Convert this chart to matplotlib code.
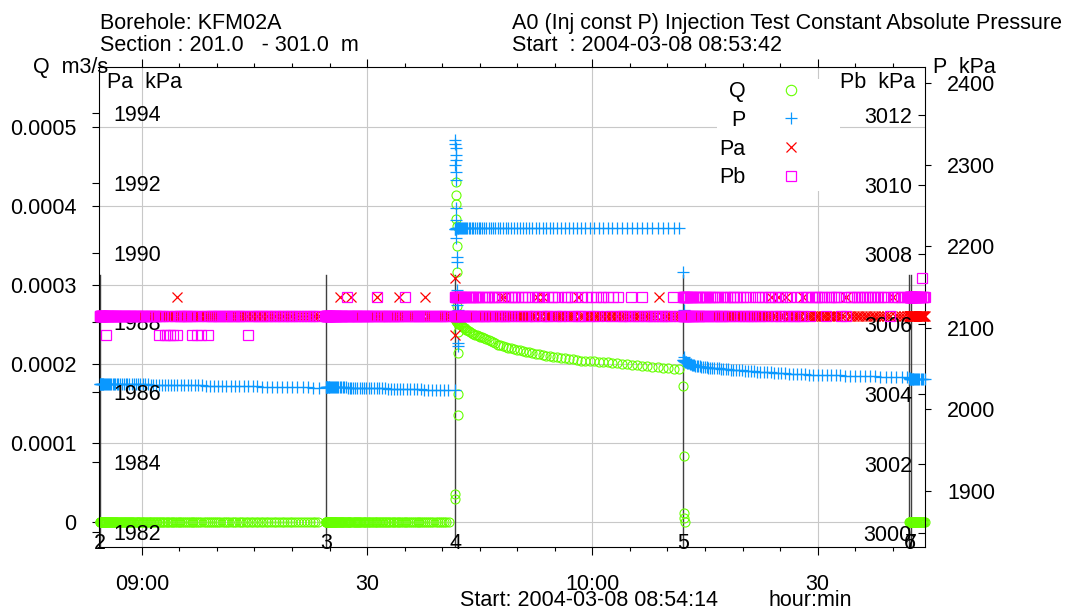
import numpy as np
import matplotlib
matplotlib.use("Agg")
import matplotlib.pyplot as plt
from matplotlib.lines import Line2D

plt.rcParams['font.family'] = ['Liberation Sans', 'DejaVu Sans']
plt.rcParams['font.size'] = 15.5

W, H = 1074, 610

# events (minutes after 09:00)
event_names = ['2', '3', '4', '5', '6', '7']
event_min = [-5.55, 24.54, 41.72, 72.08, 102.22, 102.45]

# logger sample times after each event (s): P and Q channel
sample_s = [0, 2, 5, 8, 11, 16, 20, 26, 32, 38,
            45, 53, 61, 70, 79, 89, 99, 110, 122, 134,
            146, 160, 173, 188, 203, 218, 234, 251, 268, 285,
            304, 322, 342, 362, 382, 403, 425, 447, 470, 493,
            517, 541, 566, 592, 618, 644, 672, 699, 728, 757,
            786, 816, 847, 878, 909, 942, 974, 1008, 1042, 1076,
            1111, 1147, 1183, 1220, 1257, 1295, 1333, 1372, 1412, 1452,
            1492, 1534, 1575, 1618, 1661, 1704, 1748, 1793]

# denser sample times (s) of the Q-zero and Pa/Pb records
dense_s = [0, 1, 2, 3, 5, 7, 8, 10, 12, 15,
           17, 20, 23, 25, 29, 32, 35, 39, 42, 46,
           50, 55, 59, 63, 68, 73, 78, 83, 88, 94,
           100, 105, 111, 117, 124, 130, 137, 144, 150, 158,
           165, 172, 180, 187, 195, 203, 212, 220, 228, 237,
           246, 255, 264, 273, 283, 293, 302, 312, 322, 333,
           343, 354, 365, 375, 387, 398, 409, 421, 432, 444,
           456, 469, 481, 493, 506, 519, 532, 545, 558, 572,
           586, 599, 613, 627, 642, 656, 671, 686, 700, 716,
           731, 746, 762, 777, 793, 809, 826, 842, 858, 875,
           892, 909, 926, 943, 961, 979, 996, 1014, 1032, 1051,
           1069, 1088, 1107, 1125, 1145, 1164, 1183, 1203, 1222, 1242,
           1262, 1283, 1303, 1323, 1344, 1365, 1386, 1407, 1428, 1450,
           1472, 1493, 1515, 1537, 1560, 1582, 1605, 1628, 1650, 1674,
           1697, 1720, 1744, 1767, 1791]

# P kPa per segment
p_A = [2031.5, 2031.5, 2031.5, 2031.5, 2031.5, 2031.5, 2031.4, 2031.4, 2031.4, 2031.4,
       2031.4, 2031.3, 2031.3, 2031.3, 2031.3, 2031.2, 2031.2, 2031.2, 2031.2, 2031.1,
       2031.1, 2031.0, 2031.0, 2031.0, 2030.9, 2030.9, 2030.8, 2030.8, 2030.7, 2030.7,
       2030.6, 2030.6, 2030.5, 2030.5, 2030.4, 2030.3, 2030.3, 2030.2, 2030.2, 2030.1,
       2030.0, 2030.0, 2029.9, 2029.8, 2029.7, 2029.7, 2029.6, 2029.5, 2029.4, 2029.3,
       2029.3, 2029.2, 2029.1, 2029.0, 2028.9, 2028.8, 2028.7, 2028.6, 2028.5, 2028.4,
       2028.3, 2028.2, 2028.1, 2028.0, 2027.9, 2027.8, 2027.7, 2027.6, 2027.5, 2027.4,
       2027.2, 2027.1, 2027.0, 2026.9, 2026.8, 2026.6, 2026.5]
p_B = [2027.3, 2027.3, 2027.3, 2027.3, 2027.3, 2027.2, 2027.2, 2027.2, 2027.2, 2027.2,
       2027.1, 2027.1, 2027.1, 2027.0, 2027.0, 2027.0, 2026.9, 2026.9, 2026.8, 2026.8,
       2026.7, 2026.7, 2026.6, 2026.6, 2026.5, 2026.4, 2026.4, 2026.3, 2026.2, 2026.2,
       2026.1, 2026.0, 2025.9, 2025.9, 2025.8, 2025.7, 2025.6, 2025.5, 2025.5, 2025.4,
       2025.3, 2025.2, 2025.1, 2025.0, 2024.9, 2024.8, 2024.7, 2024.6, 2024.5, 2024.3,
       2024.2, 2024.1, 2024.0, 2023.9, 2023.7, 2023.6, 2023.5]
p_C = [2221.0, 2221.2, 2221.4, 2221.6, 2221.8, 2222.0, 2222.1, 2222.2, 2222.2, 2222.3,
       2222.3, 2222.3, 2222.4, 2222.4, 2222.4, 2222.4, 2222.5, 2222.5, 2222.5, 2222.5,
       2222.5, 2222.5, 2222.5, 2222.6, 2222.6, 2222.6, 2222.6, 2222.6, 2222.6, 2222.6,
       2222.6, 2222.7, 2222.7, 2222.7, 2222.7, 2222.7, 2222.7, 2222.7, 2222.7, 2222.7,
       2222.8, 2222.8, 2222.8, 2222.8, 2222.8, 2222.8, 2222.8, 2222.8, 2222.8, 2222.8,
       2222.8, 2222.8, 2222.8, 2222.8, 2222.8, 2222.9, 2222.9, 2222.9, 2222.9, 2222.9,
       2222.9, 2222.9, 2222.9, 2222.9, 2222.9, 2222.9, 2222.9, 2222.9, 2222.9, 2222.9,
       2223.0, 2223.0, 2223.0, 2223.0, 2223.0, 2223.0, 2223.0, 2223.0]
p_D = [2060.5, 2060.2, 2059.8, 2059.4, 2059.0, 2058.5, 2058.0, 2057.5, 2057.0, 2056.6,
       2056.2, 2055.7, 2055.3, 2054.8, 2054.4, 2054.0, 2053.6, 2053.2, 2053.0, 2052.7,
       2052.4, 2052.1, 2051.8, 2051.5, 2051.2, 2051.0, 2050.7, 2050.4, 2050.2, 2050.0,
       2049.7, 2049.5, 2049.2, 2049.0, 2048.7, 2048.4, 2048.1, 2047.9, 2047.6, 2047.3,
       2047.0, 2046.8, 2046.5, 2046.2, 2046.0, 2045.7, 2045.4, 2045.2, 2044.9, 2044.6,
       2044.3, 2044.0, 2043.7, 2043.4, 2043.1, 2042.9, 2042.7, 2042.5, 2042.4, 2042.2,
       2042.0, 2041.9, 2041.7, 2041.5, 2041.4, 2041.2, 2041.0, 2040.9, 2040.7, 2040.6,
       2040.4, 2040.3, 2040.1, 2040.0, 2039.8, 2039.7, 2039.5, 2039.4]
p_E = [2037.8, 2037.8, 2037.7, 2037.7, 2037.7, 2037.6, 2037.6, 2037.6, 2037.5, 2037.5,
       2037.5, 2037.4, 2037.4, 2037.3, 2037.3, 2037.2, 2037.2, 2037.1, 2037.1]

# Q (1e-4 m3/s) during injection, event 4 -> 5
q_C = [2.58, 2.57, 2.56, 2.55, 2.54, 2.525, 2.52, 2.51, 2.505, 2.50,
       2.49, 2.48, 2.47, 2.46, 2.45, 2.435, 2.425, 2.41, 2.40, 2.39,
       2.38, 2.37, 2.36, 2.355, 2.345, 2.335, 2.325, 2.31, 2.30, 2.29,
       2.275, 2.265, 2.245, 2.233, 2.225, 2.215, 2.205, 2.197, 2.19, 2.18,
       2.17, 2.163, 2.155, 2.147, 2.14, 2.13, 2.122, 2.113, 2.104, 2.095,
       2.088, 2.081, 2.075, 2.069, 2.063, 2.056, 2.05, 2.042, 2.039, 2.036,
       2.033, 2.030, 2.026, 2.02, 2.014, 2.008, 2.002, 1.995, 1.99, 1.983,
       1.977, 1.97, 1.964, 1.958, 1.952, 1.946, 1.94, 1.934]

# fast samples right after events 4 and 5
ev4_q_s = [1, 2, 4, 6, 8, 10, 12, 14, 16, 18, 20, 22, 24, 26]
ev4_q = [0.29, 0.36, 4.30, 4.13, 4.02, 3.83, 3.74, 3.49, 3.16, 2.73, 2.40, 2.14, 1.62, 1.35]
ev4_p_s = [0, 1, 2, 3, 4, 5, 6, 7, 8, 9, 10, 11, 12, 14, 16, 18, 20, 22, 24]
ev4_p = [2023, 2300, 2330, 2326, 2320, 2312, 2306, 2291, 2281, 2247,
         2232, 2210, 2187, 2181, 2146, 2128, 2122, 2081, 2077]
ev5_q_s = [2, 5, 8, 11, 14]
ev5_q = [1.72, 0.835, 0.11, 0.05, 0.0]
ev5_p_s = [2, 5, 8]
ev5_p = [2169, 2122, 2064]

# number of Q = 0 samples in segments A, B and E (dense record)
qzero_n = {0: 143, 1: 106, 4: 35}

# Pa / Pb are digitised in steps; codes index into the level lists
pa_levels = [1987.64, 1988.19, 1988.73, 1989.28]
pb_levels = [3005.69, 3006.24, 3006.78, 3007.33]
pa_A = ("1111111111" "1111111111" "1111111111" "1111111111" "1111111111"
        "1111111111" "1111111111" "1111111111" "1121111111" "1111111111"
        "1111111111" "1111111111" "1111111111" "1111111111" "111")
pb_A = ("1111111111" "1111111111" "0111111111" "1111111111" "1111111111"
        "1111111111" "1111111111" "1011100101" "0101111111" "0110101101"
        "1111111111" "1111110111" "1111111111" "1111111111" "111")
pa_B = ("1111111111" "1111111111" "1111111111" "1121111111" "1111121111"
        "1111111111" "1111112111" "1111111111" "2111111111" "1111211111"
        "111111")
pb_B = ("1111111111" "1111111111" "1111111111" "1111111111" "2111111111"
        "1111111111" "1111112111" "1111111111" "1112111111" "1111111111"
        "111111")
pa_C = ("2310212121" "2121212121" "2111211111" "1111111111" "1111111111"
        "1111111111" "1121211111" "1111111111" "1111121121" "1111111111"
        "1111121111" "1111111111" "1111111111" "1111111211" "11111")
pb_C = ("2121212121" "1212121212" "2121122121" "1212211212" "2121212112"
        "1212121221" "2112121212" "1221212121" "2121122121" "1212212112"
        "2121211212" "1212122121" "2121111211" "1211111111" "11211")
pa_D = ("1111111111" "1111111111" "1111111111" "1111111111" "1111111111"
        "1111111111" "1111111111" "1111111111" "1111111121" "1121112111"
        "1111211111" "1111111111" "1121111111" "1111111112" "11111")
pb_D = ("1212121212" "2121212121" "1212211212" "2121121212" "1212212121"
        "2121211212" "1212122121" "2121212112" "1212121221" "2121212121"
        "1212122122" "2222122222" "1212222222" "2222222212" "22222")
pa_E = "1111111111" "1111111111" "1111111111" "11111"
pb_E = "2222222222" "2222222222" "2222222222" "32222"

q_ticks = [0, 0.0001, 0.0002, 0.0003, 0.0004, 0.0005]
q_tick_labels = ['0', '0.0001', '0.0002', '0.0003', '0.0004', '0.0005']
p_ticks = [1900, 2000, 2100, 2200, 2300, 2400]
pa_ticks = [1982, 1984, 1986, 1988, 1990, 1992, 1994]
pb_ticks = [3000, 3002, 3004, 3006, 3008, 3010, 3012]
x_major = [0, 30, 60, 90]
x_major_labels = ['09:00', '30', '10:00', '30']
x_minor = [5, 10, 15, 20, 25, 35, 40, 45, 50, 55, 65, 70, 75, 80, 85, 95, 100]

Q_COL, P_COL, PA_COL, PB_COL = '#66ff00', '#0a98ff', '#ff0000', '#ff00ff'


def seg_t(ev, n, grid=sample_s):
    return event_min[ev] + np.array(grid[:n]) / 60.0


def spike_t(ev, secs):
    return event_min[ev] + np.array(secs) / 60.0


def levels(codes, lv):
    return [lv[int(c)] for c in codes]


fig = plt.figure(figsize=(W / 100, H / 100), dpi=100)
ax = fig.add_axes([98.5 / W, 1 - 546.7 / H, 826.5 / W, 480 / H])
ax.set_xlim(-5.767, 104.3)
ax.set_ylim(-0.0000312, 0.0005759)

ax_p = ax.twinx()
ax_pa = ax.twinx()
ax_pb = ax.twinx()
ax_p.set_ylim(1831.27, 2420.37)
ax_pa.set_ylim(1981.57, 1995.336)
ax_pb.set_ylim(2999.62, 3013.385)

mk = dict(ls='none', clip_on=False)
qk = dict(marker='o', ms=6.5, mfc='none', mec=Q_COL, mew=0.8, **mk)

# Q
for ev, n in qzero_n.items():
    ax.plot(seg_t(ev, n, dense_s), np.zeros(n), **qk)
ax.plot(spike_t(2, ev4_q_s), np.array(ev4_q) * 1e-4, **qk)
ax.plot(seg_t(2, 78), np.array(q_C) * 1e-4, **qk)
ax.plot(spike_t(3, ev5_q_s), np.array(ev5_q) * 1e-4, **qk)

# P
for t, v in [(seg_t(0, 77), p_A), (seg_t(1, 57), p_B), (spike_t(2, ev4_p_s), ev4_p),
             (seg_t(2, 78), p_C), (spike_t(3, ev5_p_s), ev5_p), (seg_t(3, 78), p_D),
             (seg_t(4, 19), p_E)]:
    ax_p.plot(t, v, marker='+', ms=8.5, color=P_COL, mew=0.9, **mk)

# Pa and Pb
segs = [(0, pa_A, pb_A), (1, pa_B, pb_B), (2, pa_C, pb_C), (3, pa_D, pb_D), (4, pa_E, pb_E)]
for ev, ca, cb in segs:
    ax_pa.plot(seg_t(ev, len(ca), dense_s), levels(ca, pa_levels),
               marker='x', ms=7, color=PA_COL, mew=0.9, **mk)
    ax_pb.plot(seg_t(ev, len(cb), dense_s), levels(cb, pb_levels),
               marker='s', ms=7, mfc='none', mec=PB_COL, mew=0.9, **mk)

# event lines
for name, t in zip(event_names, event_min):
    ax.axvline(t, ymin=0, ymax=0.566, color='#404040', lw=1.0, zorder=1.5)
    ax.text(t, 0.006, name, transform=ax.get_xaxis_transform(), ha='center', va='center')

# grid and axes styling
ax.grid(True, which='major', color='#c8c8c8', lw=0.8)
ax.set_axisbelow(True)
ax.set_yticks(q_ticks)
ax.set_yticklabels(q_tick_labels)
ax.tick_params(axis='y', direction='out', length=4.7, width=0.8, pad=11)
ax.set_xticks(x_major)
ax.set_xticklabels(x_major_labels)
ax.set_xticks(x_minor, minor=True)
ax.tick_params(axis='x', which='major', direction='out', length=5.8, width=0.8, top=True, pad=13.5)
ax.tick_params(axis='x', which='minor', direction='out', length=2.9, width=0.8, top=True)
for s in ax.spines.values():
    s.set_linewidth(0.8)

for a in (ax_p, ax_pa, ax_pb):
    for s in a.spines.values():
        s.set_visible(False)

ax_p.set_yticks(p_ticks)
ax_p.tick_params(axis='y', direction='out', length=4.3, width=0.8, pad=11.5)

ax_pa.yaxis.tick_left()
ax_pa.set_yticks(pa_ticks)
ax_pa.tick_params(axis='y', direction='out', length=4.7, width=0.8, pad=-15.3)
plt.setp(ax_pa.get_yticklabels(), ha='left')

ax_pb.set_yticks(pb_ticks)
ax_pb.tick_params(axis='y', direction='in', length=5, width=0.8, pad=-9.4)
plt.setp(ax_pb.get_yticklabels(), ha='right')

# legend
handles = [Line2D([], [], ls='none', marker='o', ms=7.5, mfc='none', mec=Q_COL, mew=0.8),
           Line2D([], [], ls='none', marker='+', ms=8, color=P_COL, mew=0.9),
           Line2D([], [], ls='none', marker='x', ms=7.5, color=PA_COL, mew=0.9),
           Line2D([], [], ls='none', marker='s', ms=7, mfc='none', mec=PB_COL, mew=0.9)]
ax_pb.legend(handles, ['Q', 'P', 'Pa', 'Pb'], loc='upper left',
             bbox_to_anchor=(717 / W, 1 - 79 / H), bbox_transform=fig.transFigure,
             markerfirst=False, frameon=True, facecolor='white', edgecolor='none',
             framealpha=1, fancybox=False, borderpad=0.1, borderaxespad=0,
             handlelength=4.28, handletextpad=0.0, labelspacing=0.36)


def ftext(x, y, s, **kw):
    fig.text(x / W, 1 - y / H, s, va='baseline', **kw)


ftext(100, 29.3, 'Borehole: KFM02A')
ftext(100, 51, 'Section : 201.0   - 301.0  m')
ftext(512, 29.3, 'A0 (Inj const P) Injection Test Constant Absolute Pressure')
ftext(512, 51, 'Start  : 2004-03-08 08:53:42')
ftext(33, 73.3, 'Q  m3/s')
ftext(106.7, 88.3, 'Pa  kPa')
ftext(915, 88.3, 'Pb  kPa', ha='right')
ftext(933, 73.3, 'P  kPa')
ftext(460, 606, 'Start: 2004-03-08 08:54:14')
ftext(769, 606, 'hour:min')

fig.savefig('out.png', dpi=100)
